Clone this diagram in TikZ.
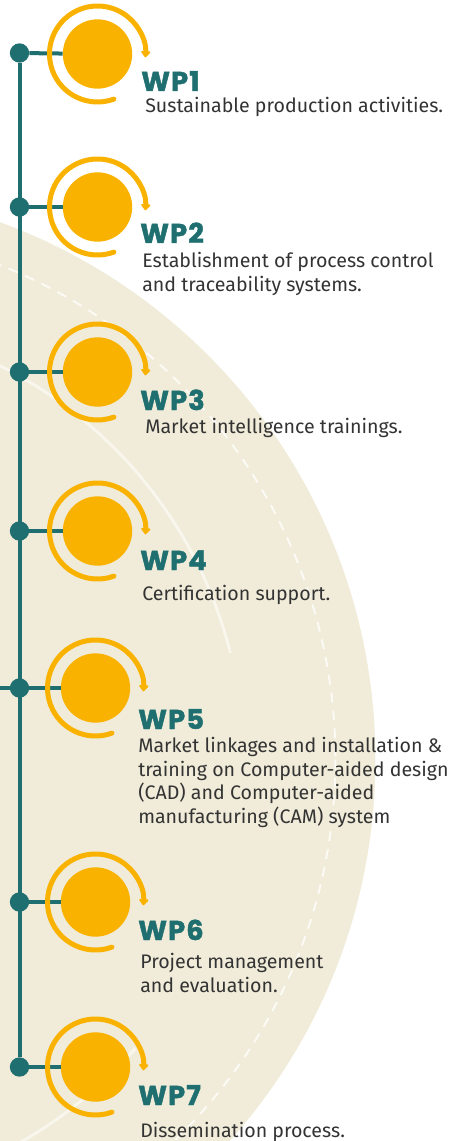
\documentclass[tikz,border=0pt]{standalone}
\usepackage{fontspec}
\setmainfont{Fira Sans}
\newfontfamily\wplabelfont{Poppins}[LetterSpace=4, FakeBold=1.6]
\usetikzlibrary{arrows.meta}
\tikzset{
	wpback/.style={
		fill={rgb, 255:red, 240; green, 236; blue, 217}},
	wpdash/.style={
		draw=white, draw opacity=0.75, line width=1.5pt, dash pattern=on 7.5pt off 6pt},
	wpglow/.style={
		draw=white, draw opacity=0.55, line width=2.2pt},
	wplink/.style={
		draw={rgb, 255:red, 31; green, 111; blue, 112}, line width=3pt},
	wpdot/.style={
		circle, inner sep=0pt, minimum size=14.5pt,
		fill={rgb, 255:red, 31; green, 111; blue, 112}},
	wpdisc/.style={
		circle, inner sep=0pt, minimum size=52pt,
		fill={rgb, 255:red, 249; green, 178; blue, 0}},
	wpring/.style={
		draw={rgb, 255:red, 249; green, 178; blue, 0}, line width=3.75pt, line cap=round,
		-{Triangle[width=8pt,length=5pt,round]}},
	wptitle/.style={
		anchor=base west, inner sep=0pt,
		color={rgb, 255:red, 31; green, 111; blue, 112},
		font=\wplabelfont\bfseries\fontsize{20.5}{22}\selectfont},
	wptext/.style={
		anchor=base west, inner sep=0pt, align=left,
		color={rgb, 255:red, 51; green, 51; blue, 51},
		font=\fontsize{14.7}{17.6}\selectfont}
}

\begin{document}
\begin{tikzpicture}[x=0.75pt,y=0.75pt,yscale=-1,xscale=1]
%set diagram left start at 0, and has height of 1141
\useasboundingbox (0,0) rectangle (460,1141);
\clip (0,0) rectangle (460,1141);

% background disc
\fill[wpback] (-196.6,759.5) circle [radius=572];
\draw[wpdash] (-196.6,759.5) circle [radius=532];
\draw[wpglow] (-196.6,759.5) ++(-66:440) arc [start angle=-66, end angle=-14, radius=440];
\draw[wpglow] (-196.6,759.5) ++(41:440) arc [start angle=41, end angle=66, radius=440];

% timeline
\node[wpdot] (d1) at (19.5,53) {};
\node[wpdot] (d2) at (19.5,207) {};
\node[wpdot] (d3) at (19.5,372) {};
\node[wpdot] (d4) at (19.5,531) {};
\node[wpdot] (d5) at (19.5,688) {};
\node[wpdot] (d6) at (19.5,902) {};
\node[wpdot] (d7) at (19.5,1067) {};
\coordinate (e5) at (0,688);

\node[wpdisc] (c1) at (97.5,54) {};
\node[wpdisc] (c2) at (97.5,207) {};
\node[wpdisc] (c3) at (97.5,372) {};
\node[wpdisc] (c4) at (97.5,531) {};
\node[wpdisc] (c5) at (95.5,688) {};
\node[wpdisc] (c6) at (95.5,902) {};
\node[wpdisc] (c7) at (95.5,1067) {};

\draw[wplink] (d1) -- (d7);
\draw[wplink] (e5) -- (d5);
\draw[wplink] (d1) -- (c1);
\draw[wplink] (d2) -- (c2);
\draw[wplink] (d3) -- (c3);
\draw[wplink] (d4) -- (c4);
\draw[wplink] (d5) -- (c5);
\draw[wplink] (d6) -- (c6);
\draw[wplink] (d7) -- (c7);

% rings
\draw[wpring] (c1.center) ++(70:48) arc [start angle=70, end angle=364, radius=48];
\draw[wpring] (c2.center) ++(70:48) arc [start angle=70, end angle=364, radius=48];
\draw[wpring] (c3.center) ++(70:48) arc [start angle=70, end angle=364, radius=48];
\draw[wpring] (c4.center) ++(70:48) arc [start angle=70, end angle=364, radius=48];
\draw[wpring] (c5.center) ++(70:48) arc [start angle=70, end angle=364, radius=48];
\draw[wpring] (c6.center) ++(70:48) arc [start angle=70, end angle=364, radius=48];
\draw[wpring] (c7.center) ++(70:48) arc [start angle=70, end angle=364, radius=48];

% labels (multi-line texts sit on their last baseline)
\node[wptitle] (t1) at (141,91) {WP1};
\node[wptext] (s1) at (145,113) {Sustainable production activities.};
\node[wptitle] (t2) at (140,243) {WP2};
\node[wptext] (s2) at (142,291) {Establishment of process control\\and traceability systems.};
\node[wptitle] (t3) at (140,410) {WP3};
\node[wptext] (s3) at (145,433) {Market intelligence trainings.};
\node[wptitle] (t4) at (140,570) {WP4};
\node[wptext] (s4) at (142,600) {Certification support.};
\node[wptitle] (t5) at (138,729) {WP5};
\node[wptext] (s5) at (138,823) {Market linkages and installation \&\\training on Computer-aided design\\(CAD) and Computer-aided\\manufacturing (CAM) system};
\node[wptitle] (t6) at (138,940) {WP6};
\node[wptext] (s6) at (140,992) {Project management\\and evaluation.};
\node[wptitle] (t7) at (138,1105) {WP7};
\node[wptext] (s7) at (140,1137) {Dissemination process.};

\end{tikzpicture}
\end{document}
